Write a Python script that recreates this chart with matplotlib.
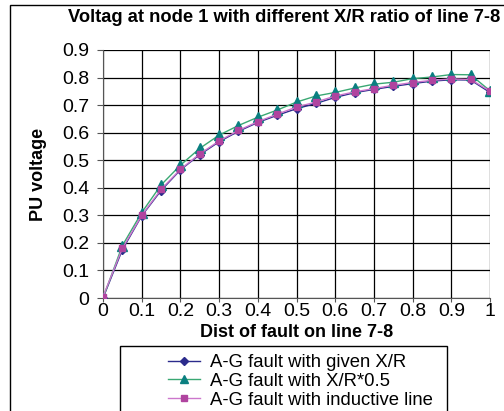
import matplotlib
matplotlib.use("Agg")
import matplotlib.pyplot as plt
from matplotlib.patches import Rectangle

plt.rcParams['font.family'] = ['Liberation Sans', 'DejaVu Sans']

dist = [0, 0.05, 0.1, 0.15, 0.2, 0.25, 0.3, 0.35, 0.4, 0.45, 0.5,
        0.55, 0.6, 0.65, 0.7, 0.75, 0.8, 0.85, 0.9, 0.95, 1.0]
given_xr = [0, 0.175, 0.298, 0.39, 0.465, 0.52, 0.567, 0.605, 0.637, 0.663, 0.687,
            0.706, 0.728, 0.745, 0.757, 0.768, 0.778, 0.787, 0.792, 0.791, 0.746]
half_xr = [0, 0.19, 0.31, 0.41, 0.482, 0.543, 0.591, 0.626, 0.656, 0.682, 0.711,
           0.733, 0.746, 0.762, 0.776, 0.783, 0.796, 0.802, 0.811, 0.81, 0.752]
inductive = [0.005, 0.18, 0.30, 0.394, 0.467, 0.523, 0.57, 0.608, 0.64, 0.667, 0.693,
             0.711, 0.733, 0.748, 0.76, 0.772, 0.782, 0.79, 0.795, 0.793, 0.751]
labels = ["A-G fault with given X/R", "A-G fault with X/R*0.5", "A-G fault with inductive line"]
xticks = [0, 0.1, 0.2, 0.3, 0.4, 0.5, 0.6, 0.7, 0.8, 0.9, 1]
yticks = [0, 0.1, 0.2, 0.3, 0.4, 0.5, 0.6, 0.7, 0.8, 0.9]

W, H = 504, 411
fig = plt.figure(figsize=(W/100, H/100), dpi=100)
fig.patches.append(Rectangle((10/W, -0.1), 1.0, 1 - 5/H + 0.1, transform=fig.transFigure,
                             fill=False, edgecolor='black', linewidth=1.0))
# legend frame
fig.patches.append(Rectangle((120/W, -0.1), (447-120)/W, 1 - 346/H + 0.1,
                             transform=fig.transFigure, fill=False,
                             edgecolor='black', linewidth=1.0))

ax = fig.add_axes([103/W, 1 - 298/H, (490-103)/W, (298-50)/H])
l1, = ax.plot(dist, given_xr, color='#2b2b8c', lw=1.0, marker='D', ms=4.5,
              mfc='#2b2b8c', mec='#2b2b8c', label=labels[0], zorder=3)
l2, = ax.plot(dist, half_xr, color='#3aa873', lw=1.0, marker='^', ms=6.5,
              mfc='#0a7f80', mec='#0a7f80', label=labels[1], zorder=3)
l3, = ax.plot(dist, inductive, color='#cc77cc', lw=1.0, marker='s', ms=5,
              mfc='#b0449f', mec='#b0449f', label=labels[2], zorder=4)

ax.set_xlim(0, 1)
ax.set_ylim(0, 0.9)
ax.set_xticks(xticks)
ax.set_xticklabels([f"{t:g}" for t in xticks])
ax.set_yticks(yticks)
ax.set_yticklabels([f"{t:g}" for t in yticks])
ax.grid(True, color='black', lw=0.9)
for s in ['top', 'right']:
    ax.spines[s].set_visible(False)
ax.spines['left'].set_color('#555555')
ax.spines['bottom'].set_color('#555555')
ax.tick_params(axis='y', labelsize=14, length=4.5, direction='out', color='#555555', pad=5.5)
ax.tick_params(axis='x', labelsize=14, length=3, direction='out', color='#555555', pad=0.5)

ax.set_xlabel("Dist of fault on line 7-8", fontsize=13, fontweight='bold', labelpad=3)
ax.set_ylabel("PU voltage", fontsize=13, fontweight='bold', labelpad=11)
fig.text(284/W, 1 - 17/H, "Voltag at node 1 with different X/R ratio of line 7-8",
         ha='center', va='center', fontsize=13.2, fontweight='bold')

leg = fig.legend(handles=[l1, l2, l3], loc='upper left',
                 bbox_to_anchor=(168/W, 1 - 354/H), fontsize=13.3, frameon=False,
                 handlelength=1.75, borderpad=0, labelspacing=0.1,
                 handletextpad=0.55, borderaxespad=0, markerscale=0.85)

fig.savefig("out.png", dpi=100)
